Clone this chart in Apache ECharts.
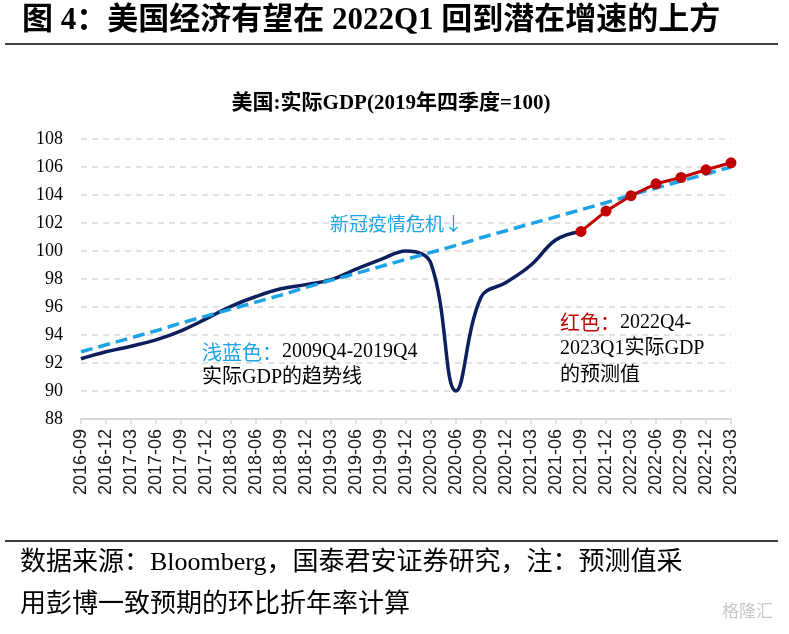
<!DOCTYPE html>
<html>
<head>
<meta charset="utf-8">
<script src="https://cdn.jsdelivr.net/npm/echarts@6/dist/echarts.min.js"></script>
<style>
html,body{margin:0;padding:0;background:#fff;}
#c{width:789px;height:634px;}
</style>
</head>
<body>
<div id="c"></div>
<script>
// ---- data ----
var quarters = ['2016-09','2016-12','2017-03','2017-06','2017-09','2017-12','2018-03','2018-06','2018-09','2018-12',
  '2019-03','2019-06','2019-09','2019-12','2020-03','2020-06','2020-09','2020-12','2021-03','2021-06',
  '2021-09','2021-12','2022-03','2022-06','2022-09','2022-12','2023-03'];
var actualGDP = [92.3, 92.8, 93.2, 93.65, 94.3, 95.15, 96.05, 96.75, 97.3, 97.6,
  97.95, 98.7, 99.4, 100.0, 99.1, 90.0, 96.7, 97.75, 99.0, 100.8,
  101.4, null, null, null, null, null, null];
var forecastGDP = [null, null, null, null, null, null, null, null, null, null,
  null, null, null, null, null, null, null, null, null, null,
  101.4, 102.85, 103.95, 104.8, 105.25, 105.8, 106.3];
var trendGDP = [92.8, 93.3, 93.8, 94.3, 94.85, 95.35, 95.85, 96.35, 96.85, 97.4,
  97.9, 98.4, 98.9, 99.4, 99.9, 100.4, 100.95, 101.45, 101.95, 102.45,
  102.95, 103.45, 104.0, 104.5, 105.0, 105.5, 106.0];
var yTicks = {min: 88, max: 108, step: 2};

var serif = '"Liberation Serif", "Noto Sans CJK SC", serif';
var chart = echarts.init(document.getElementById('c'), null, {renderer: 'canvas'});
chart.setOption({
  backgroundColor: '#fff',
  animation: false,
  title: {
    text: '美国:实际GDP(2019年四季度=100)',
    left: 386, top: 88, textAlign: 'center',
    textStyle: {fontFamily: serif, fontSize: 21, fontWeight: 'bold', color: '#000'}
  },
  grid: {left: 81, right: 58, top: 139, bottom: 215, containLabel: false},
  xAxis: {
    type: 'category', data: quarters, boundaryGap: false,
    axisLine: {lineStyle: {color: '#d9d9d9', width: 2}},
    axisTick: {show: true, length: 5, lineStyle: {color: '#d9d9d9', width: 1.5}},
    axisLabel: {interval: 0, rotate: 90, margin: 10, fontFamily: '"Liberation Sans", Arial, sans-serif',
      fontSize: 18, color: '#1a1a1a'},
    splitLine: {show: false}
  },
  yAxis: {
    type: 'value', min: yTicks.min, max: yTicks.max, interval: yTicks.step,
    axisLine: {show: false}, axisTick: {show: false},
    axisLabel: {margin: 18, fontFamily: serif, fontSize: 18, color: '#000'},
    splitLine: {lineStyle: {color: '#d9d9d9', width: 1.5, type: [6, 5]}}
  },
  series: [
    {name: 'actual', type: 'line', data: actualGDP, smooth: 0.4, symbol: 'none',
      lineStyle: {color: '#0d1f5c', width: 3.5}, z: 2},
    {name: 'trend', type: 'line', data: trendGDP, smooth: false, symbol: 'none',
      lineStyle: {color: '#1ba3e6', width: 3.5, type: [12, 6]}, z: 3},
    {name: 'forecast', type: 'line', data: forecastGDP, smooth: false, symbol: 'circle', symbolSize: 11,
      itemStyle: {color: '#c00000'}, lineStyle: {color: '#c00000', width: 3}, z: 4}
  ],
  graphic: [
    {type: 'text', left: 22, top: 5, style: {text: '图 4：美国经济有望在 2022Q1 回到潜在增速的上方',
      font: 'bold 31px "Liberation Serif", "Noto Sans CJK SC", serif', fill: '#000'}},
    {type: 'line', shape: {x1: 5, y1: 44, x2: 778, y2: 44}, style: {stroke: '#000', lineWidth: 1.5}},
    {type: 'line', shape: {x1: 5, y1: 541, x2: 778, y2: 541}, style: {stroke: '#000', lineWidth: 1.5}},
    {type: 'text', left: 330, top: 214, style: {text: '新冠疫情危机↓',
      font: '19px "Noto Sans CJK SC", sans-serif', fill: '#1ba3e6'}},
    {type: 'text', left: 202, top: 339, style: {
      text: '{b|浅蓝色：}{k|2009Q4-2019Q4}\n{k|实际GDP的趋势线}',
      lineHeight: 26,
      rich: {
        b: {font: '20px "Noto Sans CJK SC", sans-serif', fill: '#1ba3e6', lineHeight: 26},
        k: {font: '20px "Liberation Serif", "Noto Sans CJK SC", serif', fill: '#000', lineHeight: 26}
      }}},
    {type: 'text', left: 560, top: 309, style: {
      text: '{r|红色：}{k|2022Q4-}\n{k|2023Q1实际GDP}\n{k|的预测值}',
      lineHeight: 26.5,
      rich: {
        r: {font: '20px "Noto Sans CJK SC", sans-serif', fill: '#c00000', lineHeight: 26.5},
        k: {font: '20px "Liberation Serif", "Noto Sans CJK SC", serif', fill: '#000', lineHeight: 26.5}
      }}},
    {type: 'text', left: 20, top: 550, style: {text: '数据来源：Bloomberg，国泰君安证券研究，注：预测值采',
      font: '26px "Liberation Serif", "Noto Sans CJK SC", serif', fill: '#000'}},
    {type: 'text', left: 20, top: 592, style: {text: '用彭博一致预期的环比折年率计算',
      font: '26px "Liberation Serif", "Noto Sans CJK SC", serif', fill: '#000'}},
    {type: 'text', left: 722, top: 602, style: {text: '格隆汇',
      font: '17px "Noto Sans CJK SC", sans-serif', fill: '#c8c8c8'}}
  ]
});
</script>
</body>
</html>
